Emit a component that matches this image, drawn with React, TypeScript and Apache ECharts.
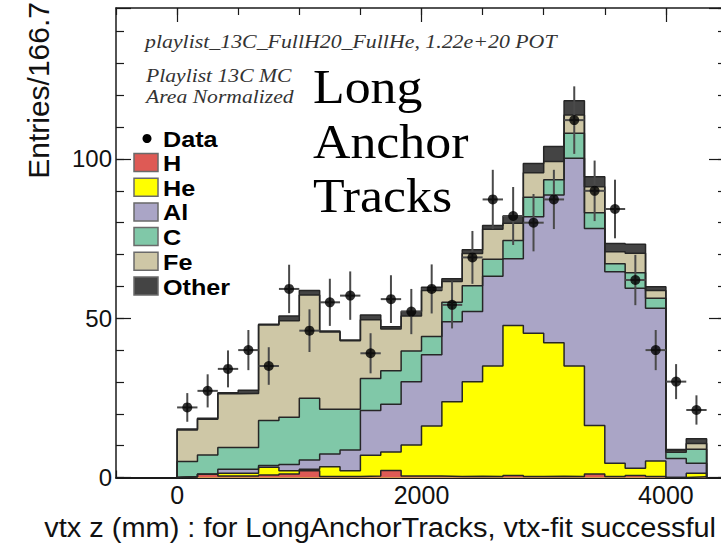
import React, { useEffect, useRef } from "react";
import * as echarts from "echarts";

// bin width in mm (Entries/166.7)
const binWidth = 500 / 3;
const nBins = 26;

// stacked components per bin (bins start at 0 mm)
const hH = [0.2, 1.0, 0.5, 0.5, 0.8, 1.1, 2.1, 0.3, 0.3, 0.5, 2.2, 0.5, 0.5, 0.3, 0.4, 0.3, 0.6, 0.3, 0.4, 0.3, 1.1, 0.3, 0.6, 0.3, 0, 0.2];
const hHe = [0, 0, 0.8, 0.8, 2.4, 1.0, 0.5, 3.1, 1.8, 6.5, 5.8, 9.7, 15.7, 23.5, 29.7, 34.7, 47.1, 45.0, 41.9, 34.7, 15.2, 4.2, 2.3, 4.9, 0, 1.1];
const hAl = [0, 0, 1.3, 1.3, 0.6, 2.0, 2.9, 4.0, 6.5, 14.0, 15.0, 19.9, 22.3, 25.1, 22.0, 28.2, 21.0, 36.6, 46.4, 65.2, 61.9, 60.1, 56.5, 47.9, 6.0, 3.2];
const hC = [4.8, 6.1, 6.8, 6.8, 14.1, 14.8, 19.4, 14.0, 12.8, 10.1, 10.5, 9.6, 5.8, 6.1, 8.1, 5.3, 5.7, 6.1, 4.8, 7.9, 4.9, 2.5, 4.9, 3.2, 1.9, 4.4];
const hFe = [9.9, 11.2, 16.9, 17.0, 30.0, 30.3, 32.4, 24.3, 21.5, 18.4, 13.1, 11.0, 14.4, 6.5, 10.1, 9.4, 5.4, 7.7, 5.7, 5.7, 8.2, 3.8, 6.1, 2.4, 0.4, 1.8];
const hOther = [0.3, 0.3, 0.3, 1.0, 0.2, 1.5, 1.4, 0.3, 0.3, 1.5, 0.7, 1.4, 1.0, 0.9, 1.2, 1.2, 2.3, 2.9, 4.7, 4.5, 3.1, 2.6, 2.8, 1.2, 0.5, 1.5];

// data points and their errors
const dataY = [22.0, 27.2, 34.1, 40.0, 35.0, 59.2, 46.1, 55.0, 57.1, 39.0, 56.0, 52.1, 59.2, 54.2, 69.1, 87.3, 82.1, 80.0, 87.3, 112.2, 90.0, 84.3, 62.0, 40.0, 30.1, 21.2];
const dataErr = [4.5, 5.2, 5.8, 6.3, 5.9, 7.6, 6.7, 7.4, 7.6, 6.3, 7.5, 7.1, 7.7, 7.4, 8.3, 9.3, 9.1, 9.0, 9.3, 10.6, 9.5, 9.2, 7.9, 6.3, 5.5, 4.6];

const xLabels = [0, 2000, 4000];
const yLabels = [0, 50, 100];

const components = [
  { name: "H", values: hH, color: "#de5a55" },
  { name: "He", values: hHe, color: "#ffff00" },
  { name: "Al", values: hAl, color: "#aaa5c6" },
  { name: "C", values: hC, color: "#80c8a8" },
  { name: "Fe", values: hFe, color: "#cec7a6" },
  { name: "Other", values: hOther, color: "#444444" },
];

function cumulative(upTo: number): number[] {
  const out: number[] = [];
  for (let i = 0; i < nBins; i++) {
    let s = 0;
    for (let k = 0; k <= upTo; k++) s += components[k].values[i];
    out.push(s);
  }
  return out;
}

function stepData(vals: number[]): number[][] {
  const pts: number[][] = [[0, 0]];
  for (let i = 0; i < nBins; i++) pts.push([i * binWidth, vals[i]]);
  pts.push([nBins * binWidth, vals[nBins - 1]]);
  pts.push([nBins * binWidth, 0]);
  return pts;
}

const FONT = "Liberation Sans, Arial, Helvetica, sans-serif";
const SERIF = "Liberation Serif, Times New Roman, serif";

export default function App() {
  const ref = useRef<HTMLDivElement>(null);
  useEffect(() => {
    document.body.style.margin = "0";
    if (!ref.current) return;
    const chart = echarts.init(ref.current, undefined, { renderer: "svg" });

    const histSeries: any[] = [];
    for (let k = components.length - 1; k >= 0; k--) {
      const c = components[k];
      histSeries.push({
        type: "line",
        name: c.name,
        data: stepData(cumulative(k)),
        step: "end",
        symbol: "none",
        xAxisIndex: 0,
        yAxisIndex: 0,
        lineStyle: { color: "#262626", width: 1.5 },
        areaStyle: { color: c.color, opacity: 1 },
        z: 2,
        silent: true,
      });
    }

    const points = dataY.map((y, i) => [(i + 0.5) * binWidth, y, dataErr[i]]);

    const tickCol = "#1a1a1a";
    const tickLine = { color: tickCol, width: 1.2 };
    const baseX = {
      type: "value",
      min: -500,
      max: 4500,
      splitLine: { show: false },
    };
    const baseY = {
      type: "value",
      min: 0,
      max: 147.4,
      splitLine: { show: false },
    };

    const legendRows = [
      { name: "Data", color: "", cy: 138.5 },
      { name: "H", color: "#de5a55", cy: 162.5 },
      { name: "He", color: "#ffff00", cy: 187.2 },
      { name: "Al", color: "#aaa5c6", cy: 211.9 },
      { name: "C", color: "#80c8a8", cy: 236.6 },
      { name: "Fe", color: "#cec7a6", cy: 261.3 },
      { name: "Other", color: "#444444", cy: 286 },
    ];
    const legendEls: any[] = [
      { type: "circle", shape: { cx: 147, cy: 138.5, r: 4.5 }, style: { fill: "#000" } },
    ];
    legendRows.forEach((r) => {
      if (r.color) {
        legendEls.push({
          type: "rect",
          shape: { x: 134, y: r.cy - 9, width: 24, height: 18 },
          style: { fill: r.color, stroke: "#6a6a6a", lineWidth: 1.5 },
        });
      }
      legendEls.push({
        type: "text", x: 163, y: r.cy + 0.5, scaleX: 1.12,
        style: { text: r.name, font: `bold 22.5px ${FONT}`, fill: "#000", textVerticalAlign: "middle" },
      });
    });

    const option: any = {
      animation: false,
      backgroundColor: "#ffffff",
      grid: { left: 116, top: 8, width: 611, height: 469.5, containLabel: false, outerBoundsMode: "none" },
      xAxis: [
        {
          ...baseX,
          position: "bottom",
          interval: 500,
          axisLine: { show: true, onZero: false, lineStyle: { color: tickCol, width: 2 } },
          axisTick: { show: true, inside: true, length: 7, lineStyle: tickLine },
          axisLabel: {
            show: true,
            margin: 5,
            fontSize: 25,
            fontFamily: FONT,
            color: "#111",
            formatter: (v: number) => (xLabels.indexOf(v) >= 0 ? String(v) : ""),
          },
        },
        {
          ...baseX,
          position: "bottom",
          axisLine: { show: false, onZero: false },
          axisTick: { show: true, inside: true, length: 14, customValues: xLabels, lineStyle: tickLine },
          axisLabel: { show: false },
        },
        {
          ...baseX,
          position: "top",
          interval: 500,
          axisLine: { show: true, onZero: false, lineStyle: { color: tickCol, width: 1.5 } },
          axisTick: { show: true, inside: true, length: 7, lineStyle: tickLine },
          axisLabel: { show: false },
        },
        {
          ...baseX,
          position: "top",
          axisLine: { show: false, onZero: false },
          axisTick: { show: true, inside: true, length: 14, customValues: xLabels, lineStyle: tickLine },
          axisLabel: { show: false },
        },
      ],
      yAxis: [
        {
          ...baseY,
          position: "left",
          interval: 10,
          axisLine: { show: true, onZero: false, lineStyle: { color: tickCol, width: 1.5 } },
          axisTick: { show: true, inside: true, length: 8, lineStyle: tickLine },
          axisLabel: {
            show: true,
            margin: 4,
            fontSize: 24,
            fontFamily: FONT,
            color: "#111",
            showMaxLabel: false,
            formatter: (v: number) => (yLabels.indexOf(v) >= 0 ? String(v) : ""),
          },
        },
        {
          ...baseY,
          position: "left",
          interval: 50,
          axisLine: { show: false, onZero: false },
          axisTick: { show: true, inside: true, length: 15, lineStyle: tickLine },
          axisLabel: { show: false },
        },
        {
          ...baseY,
          position: "right",
          interval: 10,
          axisLine: { show: true, onZero: false, lineStyle: { color: tickCol, width: 1.5 } },
          axisTick: { show: true, inside: true, length: 9, lineStyle: tickLine },
          axisLabel: { show: false },
        },
        {
          ...baseY,
          position: "right",
          interval: 50,
          axisLine: { show: false, onZero: false },
          axisTick: { show: true, inside: true, length: 18, lineStyle: tickLine },
          axisLabel: { show: false },
        },
      ],
      series: [
        ...histSeries,
        {
          type: "custom",
          name: "Data errors",
          xAxisIndex: 0,
          yAxisIndex: 0,
          z: 4,
          silent: true,
          data: points,
          renderItem: (params: any, api: any) => {
            const x = api.value(0);
            const y = api.value(1);
            const e = api.value(2);
            const top = api.coord([x, y + e]);
            const bot = api.coord([x, y - e]);
            const l = api.coord([x - binWidth / 2, y]);
            const r = api.coord([x + binWidth / 2, y]);
            const st = { stroke: "#4a4a4a", lineWidth: 2 };
            return {
              type: "group",
              children: [
                { type: "line", shape: { x1: top[0], y1: top[1], x2: bot[0], y2: bot[1] }, style: st },
                { type: "line", shape: { x1: l[0], y1: l[1], x2: r[0], y2: r[1] }, style: st },
              ],
            };
          },
        },
        {
          type: "scatter",
          name: "Data",
          xAxisIndex: 0,
          yAxisIndex: 0,
          z: 5,
          symbol: "circle",
          symbolSize: 10,
          itemStyle: { color: "#000" },
          data: points.map((p) => [p[0], p[1]]),
        },
      ],
      graphic: [
        {
          type: "text", x: 145, y: 42, scaleX: 1.15,
          style: { text: "playlist_13C_FullH20_FullHe, 1.22e+20 POT", font: `italic 19px ${SERIF}`, fill: "#333", textVerticalAlign: "middle" },
        },
        {
          type: "text", x: 146, y: 76, scaleX: 1.17,
          style: { text: "Playlist 13C MC", font: `italic 18.5px ${SERIF}`, fill: "#333", textVerticalAlign: "middle" },
        },
        {
          type: "text", x: 146, y: 96.5, scaleX: 1.17,
          style: { text: "Area Normalized", font: `italic 18.5px ${SERIF}`, fill: "#333", textVerticalAlign: "middle" },
        },
        {
          type: "text", x: 313, y: 87, scaleX: 1.08,
          style: { text: "Long", font: `48px ${SERIF}`, fill: "#000", textVerticalAlign: "middle" },
        },
        {
          type: "text", x: 313, y: 141.5, scaleX: 1.08,
          style: { text: "Anchor", font: `48px ${SERIF}`, fill: "#000", textVerticalAlign: "middle" },
        },
        {
          type: "text", x: 313, y: 196, scaleX: 1.08,
          style: { text: "Tracks", font: `48px ${SERIF}`, fill: "#000", textVerticalAlign: "middle" },
        },
        {
          type: "text", x: 38, y: 2, rotation: Math.PI / 2,
          style: { text: "Entries/166.7", font: `30px ${FONT}`, fill: "#111", textAlign: "right", textVerticalAlign: "middle" },
        },
        {
          type: "text", x: 716, y: 527.5, scaleX: 1.035,
          style: { text: "vtx z (mm) : for LongAnchorTracks, vtx-fit successful", font: `28px ${FONT}`, fill: "#111", textAlign: "right", textVerticalAlign: "middle" },
        },
        ...legendEls,
      ],
    };
    chart.setOption(option);
    return () => chart.dispose();
  }, []);
  return <div ref={ref} style={{ width: 721, height: 544 }} />;
}
